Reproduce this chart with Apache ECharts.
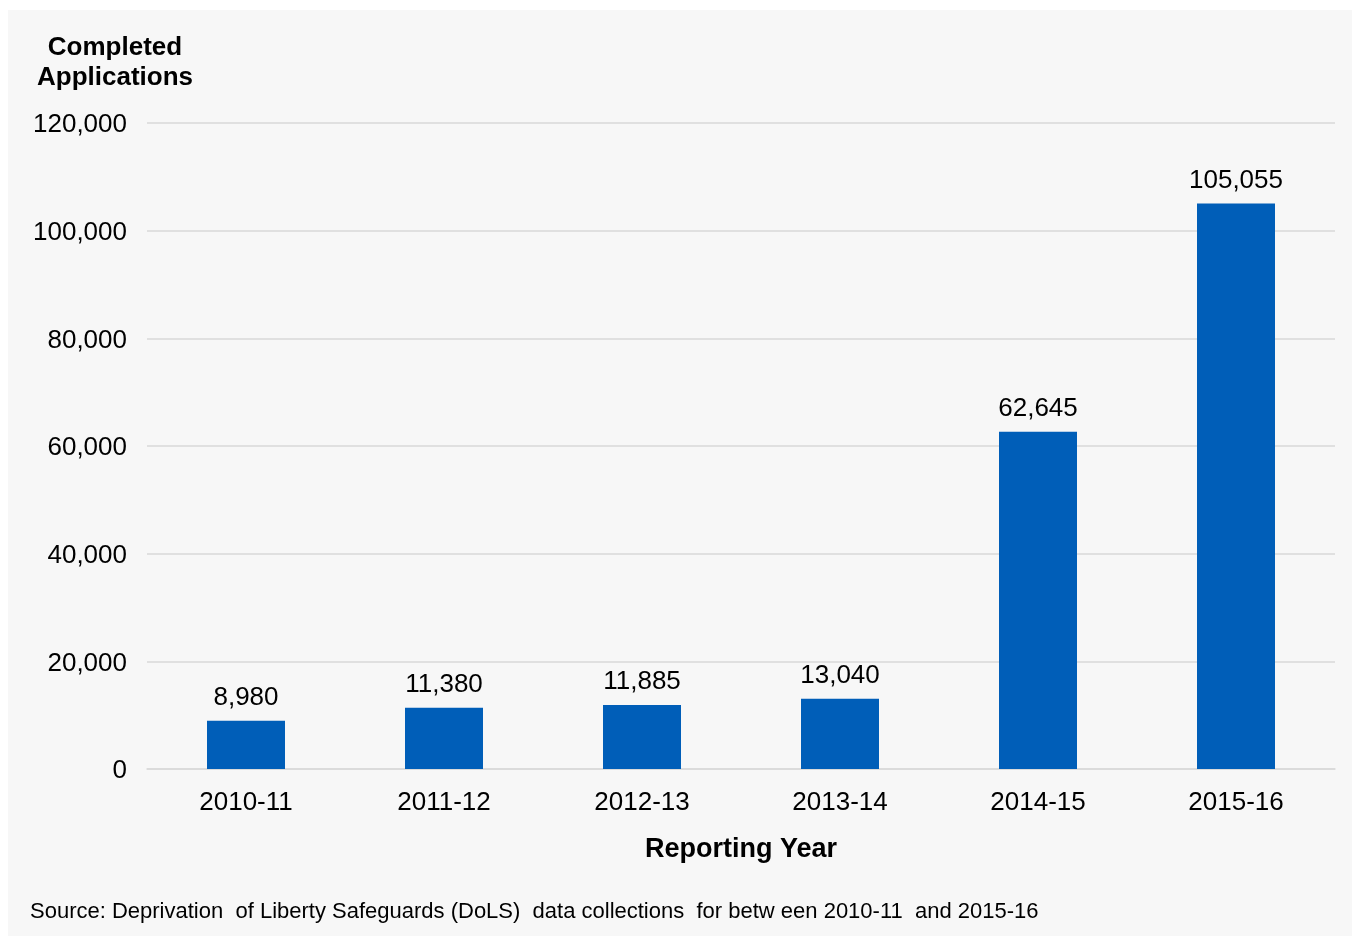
<!DOCTYPE html>
<html>
<head>
<meta charset="utf-8">
<script src="https://cdn.jsdelivr.net/npm/echarts@6/dist/echarts.min.js"></script>
<style>
    html, body { margin: 0; padding: 0; background: #fff; }
    .chart { position: absolute; left: 8px; top: 10px; width: 1344px; height: 926px; background: #f7f7f7; }
</style>
</head>
<body>
<div class="chart"></div>
<script>
const years = ['2010-11', '2011-12', '2012-13', '2013-14', '2014-15', '2015-16'];
const completed = [8980, 11380, 11885, 13040, 62645, 105055];
const yTicks = [0, 20000, 40000, 60000, 80000, 100000, 120000];

const font = '"Liberation Sans", Arial, sans-serif';
const chart = echarts.init(document.querySelector('.chart'));

// 纵轴标题两行居中
const titleLine = (text, y) => ({
    type: 'text',
    style: {
        x: 107,
        y: y,
        text: text,
        font: 'bold 26px ' + font,
        fill: '#000',
        align: 'center',
        verticalAlign: 'middle',
    },
});

chart.setOption({
    animation: false,
    textStyle: { fontFamily: font },
    grid: { left: 139, right: 17, top: 113, bottom: 167 },
    graphic: [
        titleLine('Completed', 38),
        titleLine('Applications', 68),
        {
            type: 'text',
            left: 22,
            top: 891,
            style: {
                text: 'Source: Deprivation  of Liberty Safeguards (DoLS)  data collections  for betw een 2010-11  and 2015-16',
                font: '22px ' + font,
                fill: '#000',
            },
        },
    ],
    xAxis: {
        type: 'category',
        data: years,
        name: 'Reporting Year',
        nameLocation: 'middle',
        nameGap: 67,
        nameTextStyle: { fontSize: 27, fontWeight: 'bold', color: '#000' },
        axisLine: { lineStyle: { color: '#d9d9d9', width: 1.5 } },
        axisTick: { show: false },
        axisLabel: { fontSize: 26, color: '#000', margin: 21 },
    },
    yAxis: {
        type: 'value',
        min: yTicks[0],
        max: yTicks[yTicks.length - 1],
        interval: 20000,
        axisLine: { show: false },
        axisTick: { show: false },
        splitLine: { lineStyle: { color: '#d9d9d9', width: 1.5 } },
        axisLabel: {
            fontSize: 26,
            color: '#000',
            margin: 20,
            verticalAlign: 'top',
            lineHeight: 26,
            padding: [-11, 0, 0, 0],
            formatter: (v) => v.toLocaleString('en-US'),
        },
    },
    series: [
        {
            type: 'bar',
            data: completed,
            barWidth: 78,
            itemStyle: { color: '#005EB8' },
            label: {
                show: true,
                position: 'top',
                distance: 10,
                fontSize: 26,
                color: '#000',
                formatter: (p) => p.value.toLocaleString('en-US'),
            },
        },
    ],
});
</script>
</body>
</html>
